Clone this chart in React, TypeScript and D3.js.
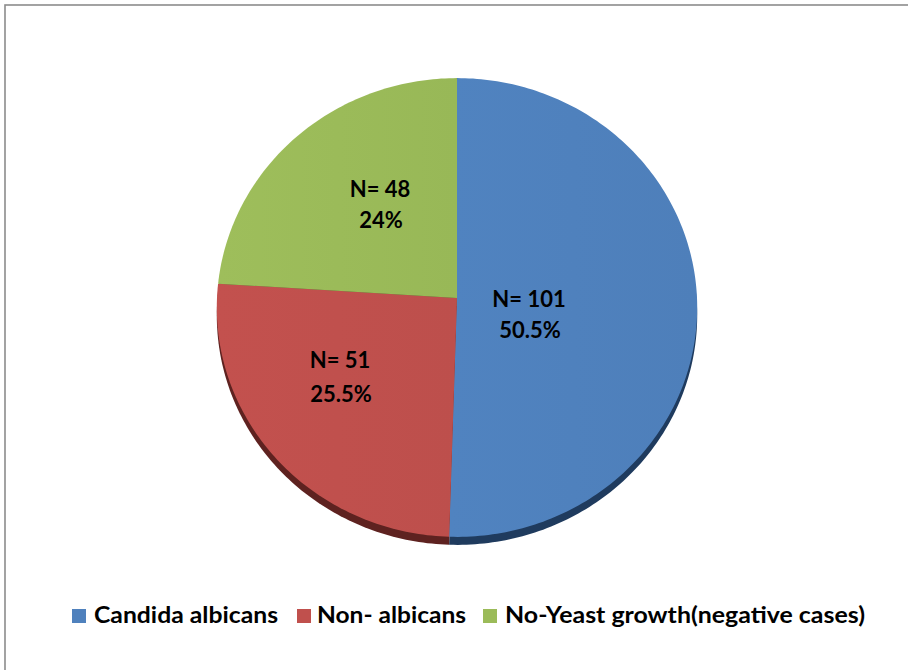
import React from "react";
import * as d3 from "d3";

const categories = ["Candida albicans", "Non- albicans", "No-Yeast growth(negative cases)"];
const counts = [101, 51, 48];
const percentLabels = ["50.5%", "25.5%", "24%"];
const colors = ["#4F81BD", "#C0504D", "#9BBB59"];
const darkColors = ["#1F3B5E", "#5E2220", "#4C5E2A"];

const W = 908;
const H = 670;
// perspective-projected pie (apex = projected centre)
const cx = 457;
const cy = 298;
const Rx = 240;
const Ry = 229;
const k = 0.0414;
const depth = 8;
const FONT = "Lato, 'Open Sans', 'DejaVu Sans', sans-serif";

const labelPos = [
  { x: 529, y1: 307, y2: 338 },
  { x: 340, y1: 368, y2: 402 },
  { x: 380, y1: 197, y2: 228 },
];
const legendX = [
  { sq: 72, tx: 94, w: 184 },
  { sq: 297, tx: 317, w: 149 },
  { sq: 483, tx: 505, w: 360 },
];

function proj(a: number, dy: number): [number, number] {
  const w = 1 + k * Math.cos(a);
  return [cx + (Rx * Math.sin(a)) / w, cy + dy - (Ry * Math.cos(a)) / w];
}

const lineGen = d3.line<[number, number]>().curve(d3.curveLinear);

function wedge(a0: number, a1: number, dy: number) {
  const n = Math.max(2, Math.ceil(((a1 - a0) / (2 * Math.PI)) * 360));
  const pts: [number, number][] = [[cx, cy + dy]];
  for (let i = 0; i <= n; i++) pts.push(proj(a0 + ((a1 - a0) * i) / n, dy));
  return lineGen(pts) + "Z";
}

export default function App() {
  const pie = d3.pie<number>().sort(null).value((d) => d);
  const arcs = pie(counts);
  return (
    <svg
      width={W}
      height={H}
      style={{ position: "fixed", left: 0, top: 0, background: "#fff" }}
    >
      <rect x={5} y={5} width={W + 5} height={H + 5} fill="#fff" stroke="#8c8c8c" strokeWidth={1.6} />
      <defs>
        {colors.map((c, i) => (
          <linearGradient key={i} id={`g${i}`} x1="0" y1="0" x2="1" y2="0">
            <stop offset="0" stopColor={d3.color(c)!.brighter(0.05).toString()} />
            <stop offset="1" stopColor={d3.color(c)!.darker(0.05).toString()} />
          </linearGradient>
        ))}
      </defs>
      {arcs.map((a, i) => (
        <path key={`s${i}`} d={wedge(a.startAngle, a.endAngle, depth)} fill={darkColors[i]} />
      ))}
      {arcs.map((a, i) => (
        <path key={`t${i}`} d={wedge(a.startAngle, a.endAngle, 0)} fill={`url(#g${i})`} />
      ))}
      {arcs.map((a, i) => (
        <g key={`l${i}`} fontFamily={FONT} fontWeight={700} fontSize={22} fill="#000" textAnchor="middle">
          <text x={labelPos[i].x} y={labelPos[i].y1}>{`N= ${counts[i]}`}</text>
          <text x={labelPos[i].x + 1} y={labelPos[i].y2}>{percentLabels[i]}</text>
        </g>
      ))}
      {categories.map((c, i) => (
        <g key={`lg${i}`}>
          <rect x={legendX[i].sq} y={609} width={14} height={14} fill={colors[i]} />
          <text
            x={legendX[i].tx}
            y={623}
            fontFamily={FONT}
            fontWeight={700}
            fontSize={22}
            fill="#000"
            textLength={legendX[i].w}
            lengthAdjust="spacingAndGlyphs"
          >
            {c}
          </text>
        </g>
      ))}
    </svg>
  );
}
